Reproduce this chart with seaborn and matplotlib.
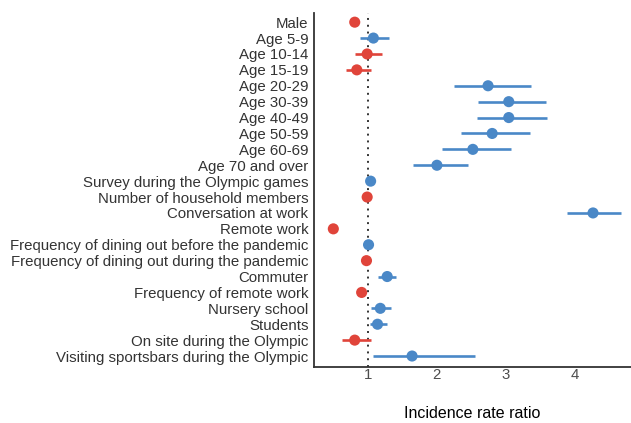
import matplotlib
matplotlib.use("Agg")
import matplotlib.pyplot as plt
import pandas as pd
import seaborn as sns

# incidence rate ratios with 95% CI
variables = ["Male", "Age 5-9", "Age 10-14", "Age 15-19", "Age 20-29", "Age 30-39",
             "Age 40-49", "Age 50-59", "Age 60-69", "Age 70 and over",
             "Survey during the Olympic games", "Number of household members",
             "Conversation at work", "Remote work",
             "Frequency of dining out before the pandemic",
             "Frequency of dining out during the pandemic", "Commuter",
             "Frequency of remote work", "Nursery school", "Students",
             "On site during the Olympic", "Visiting sportsbars during the Olympic"]
irr = [0.81, 1.08, 0.99, 0.84, 2.74, 3.04, 3.04, 2.80, 2.52, 2.00,
       1.04, 0.99, 4.26, 0.50, 1.01, 0.98, 1.28, 0.91, 1.18, 1.14, 0.81, 1.64]
ci_low = [0.77, 0.89, 0.81, 0.68, 2.25, 2.59, 2.58, 2.35, 2.08, 1.65,
          0.99, 0.96, 3.89, 0.46, 0.98, 0.95, 1.15, 0.87, 1.04, 1.03, 0.63, 1.08]
ci_high = [0.85, 1.31, 1.21, 1.04, 3.36, 3.58, 3.59, 3.35, 3.07, 2.45,
           1.09, 1.02, 4.66, 0.56, 1.04, 1.01, 1.41, 0.95, 1.33, 1.27, 1.04, 2.55]

df = pd.DataFrame({"variable": variables, "irr": irr, "lo": ci_low, "hi": ci_high})
df["direction"] = ["up" if v >= 1 else "down" for v in df["irr"]]
palette = {"up": "#4A88C7", "down": "#E0443A"}

plt.rcParams["font.family"] = ["Liberation Sans", "DejaVu Sans"]

fig = plt.figure(figsize=(6.31, 4.23), dpi=100)
ax = fig.add_axes([0.4976, 0.1324, 0.5024, 0.8366])

# confidence intervals
for _, r in df.iterrows():
    ax.hlines(r["variable"], r["lo"], r["hi"], color=palette[r["direction"]], lw=1.9, zorder=2)

sns.scatterplot(data=df, x="irr", y="variable", hue="direction", palette=palette,
                s=64, edgecolor="none", legend=False, ax=ax, zorder=3)

ax.axvline(1, color="#333333", ls=(0, (1, 2.5)), lw=1.4, zorder=1)

ax.set_xlim(0.22, 4.81)
ax.set_ylim(21.69, -0.57)
ax.set_xticks([1, 2, 3, 4])
ax.set_xticklabels(["1", "2", "3", "4"])
ax.tick_params(axis="x", length=0, labelsize=10.8, labelcolor="#4D4D4D", pad=1)
ax.tick_params(axis="y", length=0, labelsize=10.8, labelcolor="#333333", pad=4)
ax.set_ylabel("")
ax.set_xlabel("Incidence rate ratio", fontsize=11.5, labelpad=17)

for side in ["top", "right"]:
    ax.spines[side].set_visible(False)
for side in ["left", "bottom"]:
    ax.spines[side].set_color("#333333")
    ax.spines[side].set_linewidth(1.3)

fig.savefig("out.png", dpi=100)
plt.close()
